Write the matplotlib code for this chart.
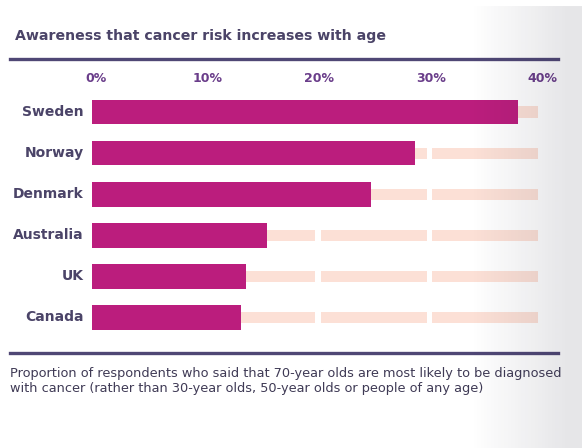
import numpy as np
import matplotlib
matplotlib.use("Agg")
import matplotlib.pyplot as plt
from matplotlib.lines import Line2D

countries = ["Sweden", "Norway", "Denmark", "Australia", "UK", "Canada"]
awareness = [38.2, 29.0, 25.0, 15.7, 13.8, 13.4]
ticks = [0, 10, 20, 30, 40]
tick_labels = ["0%", "10%", "20%", "30%", "40%"]

title = "Awareness that cancer risk increases with age"
caption = ("Proportion of respondents who said that 70-year olds are most likely to be diagnosed\n"
           "with cancer (rather than 30-year olds, 50-year olds or people of any age)")

BAR = "#bb1d7d"
PEACH = "#fce0d6"
DARK = "#4b4468"
RULE = "#4f4775"
TICKC = "#6a3d8a"

plt.rcParams["font.family"] = ["DejaVu Sans"]

W, H = 582, 448
fig = plt.figure(figsize=(W / 100, H / 100), dpi=100)
fig.patch.set_facecolor("white")

ax = fig.add_axes([92 / W, 1 - 338 / H, (538 - 92) / W, (338 - 91.5) / H])
ax.set_xlim(0, 40)
ax.set_ylim(len(countries) - 0.5, -0.5)
ax.axis("off")

y = np.arange(len(countries))
gap = 0.5
for i, v in enumerate(awareness):
    for k in range(len(ticks) - 1):
        a = ticks[k] + (gap if k > 0 else 0)
        b = ticks[k + 1]
        a = max(a, v)
        if b > a:
            ax.barh(i, b - a, left=a, height=0.27, color=PEACH, zorder=1)
ax.barh(y, awareness, height=0.6, color=BAR, zorder=2)

for i, name in enumerate(countries):
    ax.text(-0.75, i, name, ha="right", va="center", fontsize=10,
            fontweight="bold", color=DARK)

for t, lab in zip(ticks, tick_labels):
    ax.annotate(lab, xy=(t, 1 - 78 / H), xycoords=("data", "figure fraction"),
                xytext=(3, 0), textcoords="offset points",
                ha="center", va="center", fontsize=9, fontweight="bold",
                color=TICKC, annotation_clip=False)

fig.text(15 / W, 1 - 36 / H, title, ha="left", va="center", fontsize=10.2,
         fontweight="bold", color=DARK)
fig.add_artist(Line2D([10 / W, 558 / W], [1 - 58.5 / H, 1 - 58.5 / H],
                      color=RULE, lw=2.4, transform=fig.transFigure))
fig.add_artist(Line2D([10 / W, 558 / W], [1 - 352.5 / H, 1 - 352.5 / H],
                      color=RULE, lw=2.4, transform=fig.transFigure))
fig.text(10 / W, 1 - 381 / H, caption, ha="left", va="center", fontsize=9.25,
         color="#3f3a55", linespacing=1.2)

# page-edge shading on the right
ov = fig.add_axes([0, 0, 1, 1], zorder=10)
ov.axis("off")
xs = np.arange(W)
alpha = np.clip((xs - 470) / (565 - 470), 0, 1) * 0.11
img = np.zeros((H, W, 4))
img[..., 0] = 0.12
img[..., 1] = 0.12
img[..., 2] = 0.2
img[..., 3] = alpha[None, :]
img[:7, :, 3] = 0
ov.imshow(img, aspect="auto", extent=[0, 1, 0, 1], interpolation="bilinear")
ov.set_xlim(0, 1)
ov.set_ylim(0, 1)

fig.savefig("out.png", dpi=100)
